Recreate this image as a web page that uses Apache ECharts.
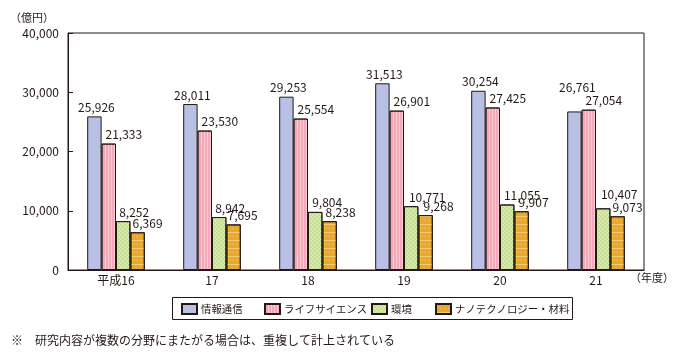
<!DOCTYPE html>
<html><head><meta charset="utf-8">
<script src="https://cdn.jsdelivr.net/npm/echarts@6/dist/echarts.min.js"></script>
<style>html,body{margin:0;padding:0;background:#fff}#c{width:675px;height:358px}</style>
</head><body><div id="c"></div>
<script>
const categories = ['平成16', '17', '18', '19', '20', '21'];
const seriesNames = ['情報通信', 'ライフサイエンス', '環境', 'ナノテクノロジー・材料'];
const info = [25926, 28011, 29253, 31513, 30254, 26761];
const life = [21333, 23530, 25554, 26901, 27425, 27054];
const env = [8252, 8942, 9804, 10771, 11055, 10407];
const nano = [6369, 7695, 8238, 9268, 9907, 9073];
const yTicks = [0, 10000, 20000, 30000, 40000];

const FONT = '"Noto Sans CJK JP", sans-serif';
const INK = '#231815';
const colors = ['#B8C0E3', '#F5A8B8', '#C6E08F', '#EAA82E'];
const decals = [
  null,
  {symbol: 'rect', symbolSize: 1, dashArrayX: [1, 2], dashArrayY: [4, 0], color: 'rgba(255,255,255,0.4)'},
  {symbol: 'rect', symbolSize: 1, dashArrayX: [[2, 2], [0, 2, 2, 0]], dashArrayY: [2, 0], color: 'rgba(255,255,255,0.3)'},
  {symbol: 'rect', symbolSize: 1, dashArrayX: [[1, 3], [4, 0]], dashArrayY: [1, 3], color: 'rgba(255,235,170,0.5)'}
];
// label nudges (px) per series / category
const labelDx = [
  [2, 2, 2, 2, 2, 3],
  [15, 15, 15, 15, 15, 15],
  [11, 11, 12, 16, 15, 16],
  [10, 9, 11, 13, 12, 10]
];
const labelDy = [
  [0, 0, 0, 0, 0, -15],
  [0, 0, 0, 0, 0, 0],
  [0, 0, 0, 0, 0, -5],
  [0, 0, 0, 0, 0, 0]
];
const values = [info, life, env, nano];

const series = values.map((arr, s) => ({
  name: seriesNames[s],
  type: 'bar',
  barGap: '0%',
  barCategoryGap: '40%',
  itemStyle: Object.assign({color: colors[s], borderColor: INK, borderWidth: 1}, decals[s] ? {decal: decals[s]} : {}),
  data: arr.map((v, i) => ({
    value: v,
    label: {offset: [labelDx[s][i], labelDy[s][i]]}
  })),
  label: {
    show: true, position: 'top', distance: 3,
    fontFamily: FONT, fontSize: 12, color: INK,
    formatter: p => p.value.toLocaleString('en-US')
  }
}));

const legendLeft = [181, 264, 371, 435];
const legends = seriesNames.map((n, s) => ({
  data: [n], left: legendLeft[s], top: 303, padding: 0,
  icon: 'rect',
  itemWidth: 15, itemHeight: 10, itemGap: 0,
  textStyle: {fontFamily: FONT, fontSize: 10.4, color: INK, padding: [0, 0, 0, -1]},
  selectedMode: false
}));

const chart = echarts.init(document.getElementById('c'), null, {renderer: 'canvas'});
chart.setOption({
  animation: false,
  backgroundColor: '#fff',
  color: colors,
  grid: {left: 68, right: 31, top: 33, bottom: 88, show: true, borderColor: INK, borderWidth: 1, backgroundColor: 'transparent'},
  legend: legends,
  xAxis: {
    type: 'category', data: categories,
    axisLine: {lineStyle: {color: INK}},
    axisTick: {inside: true, length: 6, lineStyle: {color: INK}},
    axisLabel: {fontFamily: FONT, fontSize: 12, color: INK, margin: 4}
  },
  yAxis: {
    type: 'value', min: 0, max: 40000, interval: 10000,
    axisLine: {show: true, lineStyle: {color: INK}},
    axisTick: {show: true, inside: true, length: 5, lineStyle: {color: INK}},
    splitLine: {show: false},
    axisLabel: {fontFamily: FONT, fontSize: 12, color: INK, margin: 9,
      formatter: v => yTicks.includes(v) ? v.toLocaleString('en-US') : ''}
  },
  graphic: [
    {type: 'text', left: 10, top: 12, style: {text: '（億円）', font: '11px ' + FONT, fill: INK}},
    {type: 'text', left: 630, top: 272, style: {text: '（年度）', font: '11px ' + FONT, fill: INK}},
    {type: 'rect', shape: {x: 172.5, y: 297.5, width: 400, height: 22}, style: {fill: 'none', stroke: INK, lineWidth: 1}, z: -1},
    {type: 'text', left: 11, top: 334, style: {text: '※　研究内容が複数の分野にまたがる場合は、重複して計上されている', font: '12px ' + FONT, fill: INK}}
  ],
  series: series
});
</script></body></html>
